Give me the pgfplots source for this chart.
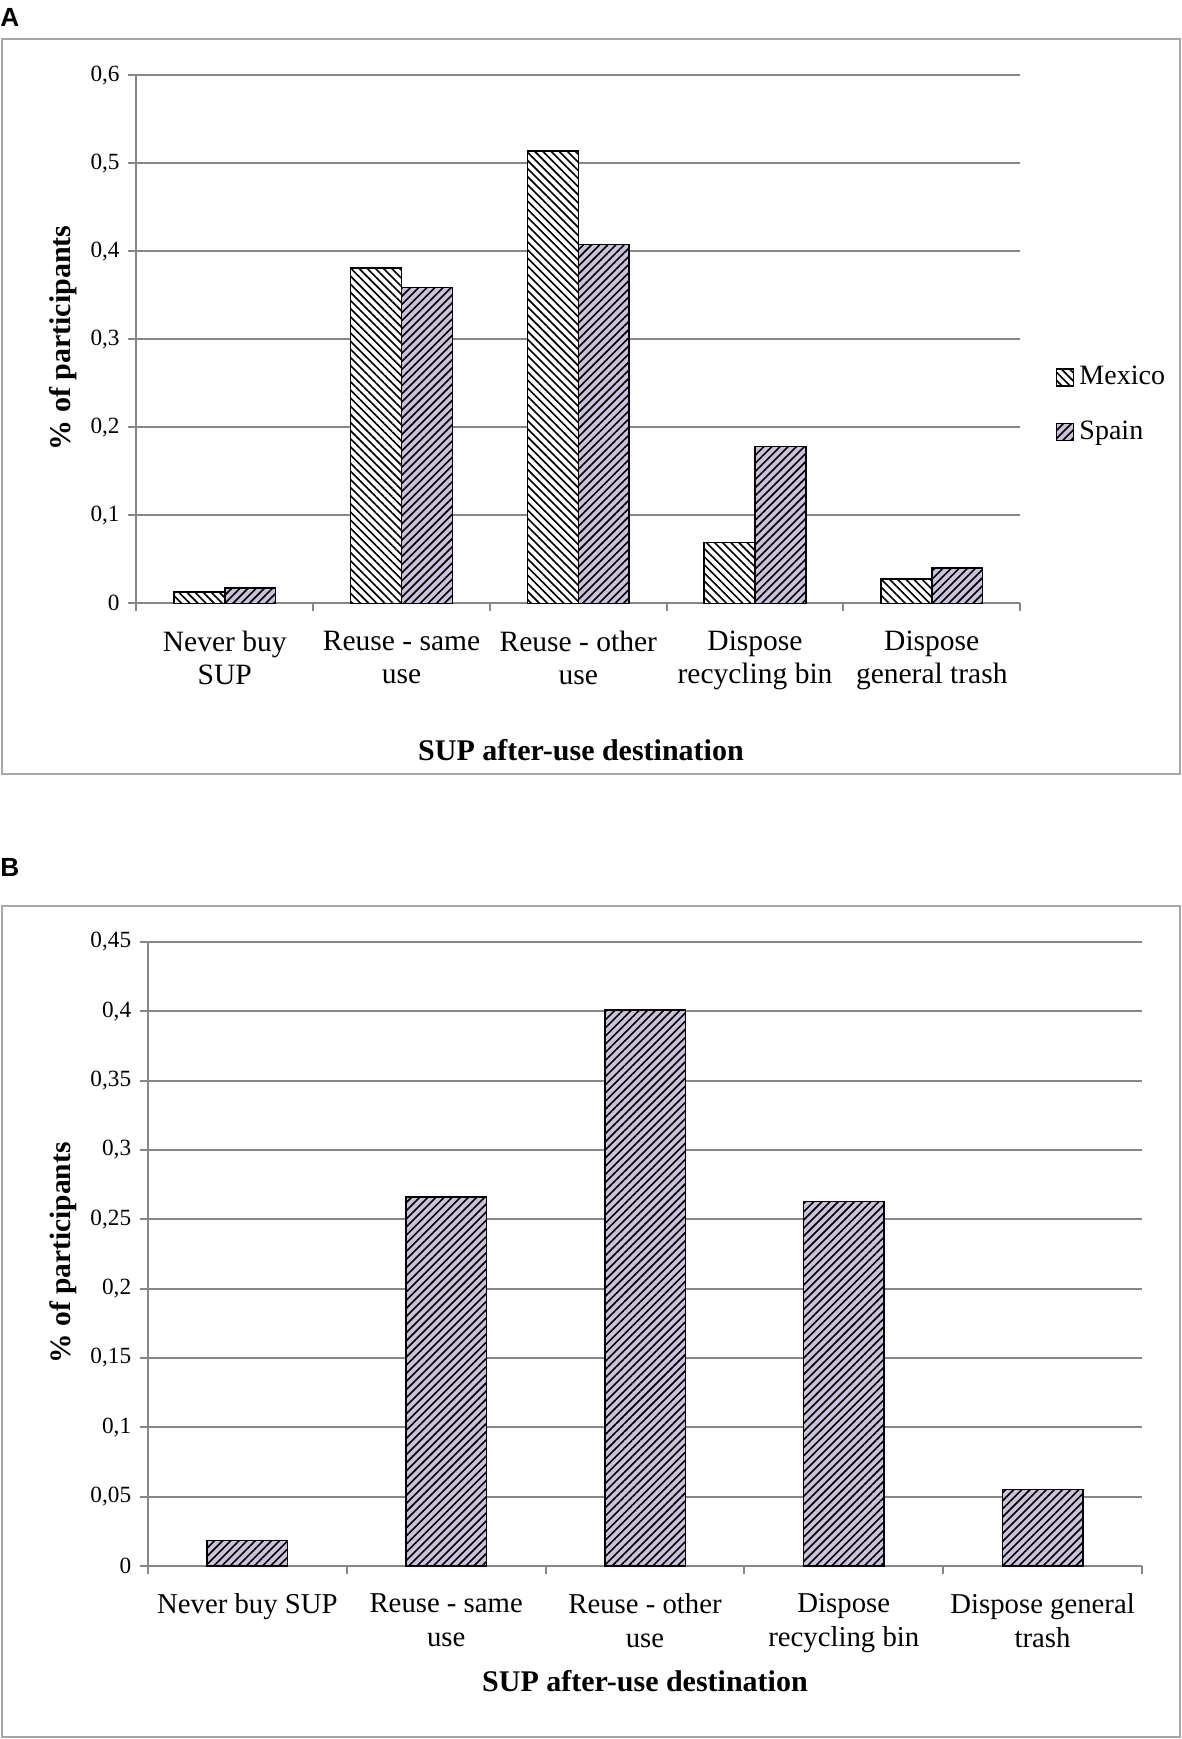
\documentclass[border=0pt]{standalone}
\usepackage{fontspec}
\setmainfont{Liberation Serif}
\newfontfamily\headfont{Liberation Sans}
\usepackage{pgfplots}
\pgfplotsset{compat=1.18}
\usetikzlibrary{patterns,patterns.meta}

\definecolor{spainfill}{HTML}{CCC1DA}
\definecolor{axgray}{HTML}{868686}
\definecolor{boxgray}{HTML}{A6A6A6}

\pgfplotstableread{
x mexico spain
0 0.0126 0.0176
1 0.381 0.359
2 0.514 0.408
3 0.069 0.178
4 0.0277 0.0403
}\dataA

\pgfplotstableread{
x spain
0 0.0184
1 0.266
2 0.401
3 0.263
4 0.0552
}\dataB

\pgfplotsset{
  mexbar/.style={draw=black, line width=0.6pt, fill=white,
    postaction={pattern={Lines[angle=-45,distance=2.3pt,line width=0.65pt]}, pattern color=black}},
  spabar/.style={draw=black, line width=0.6pt, fill=spainfill,
    postaction={pattern={Lines[angle=45,distance=2.3pt,line width=0.65pt]}, pattern color=black}},
  common/.style={
    scale only axis,
    ybar,
    xmin=-0.5, xmax=4.5, ymin=0,
    axis x line*=bottom, axis y line*=left,
    axis line style={-, axgray, line width=0.8pt},
    tick style={axgray, line width=0.8pt},
    major tick length=3.2pt,
    tick align=outside,
    xtick={-0.5,0.5,1.5,2.5,3.5,4.5},
    xticklabels={\mbox{},\mbox{},\mbox{},\mbox{},\mbox{},\mbox{}},
    extra x ticks={0,1,2,3,4},
    extra x tick style={major tick length=0pt, grid=none},
    xticklabel style={align=center, anchor=north, text=black},
    yticklabel style={font=\fontsize{9.3}{11}\selectfont, text=black},
    scaled y ticks=false,
    ymajorgrids,
    grid style={axgray, line width=0.8pt},
    /pgf/number format/fixed,
    /pgf/number format/precision=2,
    /pgf/number format/use comma,
    /pgf/number format/assume math mode=true,
    legend image code/.code={\draw[##1] (0pt,-3.4pt) rectangle (6.8pt,3.4pt);},
  }
}

\begin{document}
\begin{tikzpicture}
\useasboundingbox (0,0) rectangle (472.4pt,-695.6pt);

% ---------- Chart A ----------
\begin{axis}[common,
  at={(54.56pt,-241.32pt)}, anchor=south west,
  width=353.5pt, height=211.2pt,
  ymax=0.6,
  ytick={0,0.1,0.2,0.3,0.4,0.5,0.6},
  extra x tick labels={Never buy\\SUP, Reuse - same\\use, Reuse - other\\use, Dispose\\recycling bin, Dispose\\general trash},
  xticklabel style={font=\fontsize{11.8}{13.2}\selectfont, yshift=-7.5pt},
  legend style={at={(1.04,0.376)}, anchor=west, draw=none, fill=none,
    inner sep=0pt, font=\fontsize{11.2}{13}\selectfont, row sep=9pt,
    cells={anchor=west}},
]
\addplot[mexbar, bar width=0.288, bar shift=-0.144] table[x=x,y=mexico]{\dataA};
\addlegendentry{Mexico}
\addplot[spabar, bar width=0.288, bar shift=0.144] table[x=x,y=spain]{\dataA};
\addlegendentry{Spain}
\end{axis}

% ---------- Chart B ----------
\begin{axis}[common,
  at={(59.2pt,-626.4pt)}, anchor=south west,
  width=397.6pt, height=249.6pt,
  ymax=0.45,
  ytick={0,0.05,0.1,0.15,0.2,0.25,0.3,0.35,0.4,0.45},
  extra x tick labels={Never buy SUP, Reuse - same\\use, Reuse - other\\use, Dispose\\recycling bin, Dispose general\\trash},
  xticklabel style={font=\fontsize{11.5}{13.6}\selectfont, yshift=-7.5pt},
]
\addplot[spabar, bar width=0.405, bar shift=0] table[x=x,y=spain]{\dataB};
\end{axis}

\begin{scope}[x=0.4pt,y=-0.4pt]
  % frames
  \draw[boxgray, line width=0.8pt] (2,39) rectangle (1180,774);
  \draw[boxgray, line width=0.8pt] (2,906) rectangle (1180,1737);
  % panel letters
  \node[anchor=west, inner sep=0pt, font=\headfont\bfseries\fontsize{10.5}{12}\selectfont] at (0,17) {A};
  \node[anchor=west, inner sep=0pt, font=\headfont\bfseries\fontsize{10.5}{12}\selectfont] at (0,867) {B};
  % axis titles
  \node[rotate=90, font=\bfseries\fontsize{12}{14}\selectfont] at (63,338) {\% of participants};
  \node[font=\bfseries\fontsize{12}{14}\selectfont] at (581,750) {SUP after-use destination};
  \node[rotate=90, font=\bfseries\fontsize{11.8}{14}\selectfont] at (63,1253) {\% of participants};
  \node[font=\bfseries\fontsize{12}{14}\selectfont] at (645,1681) {SUP after-use destination};
\end{scope}
\end{tikzpicture}
\end{document}
